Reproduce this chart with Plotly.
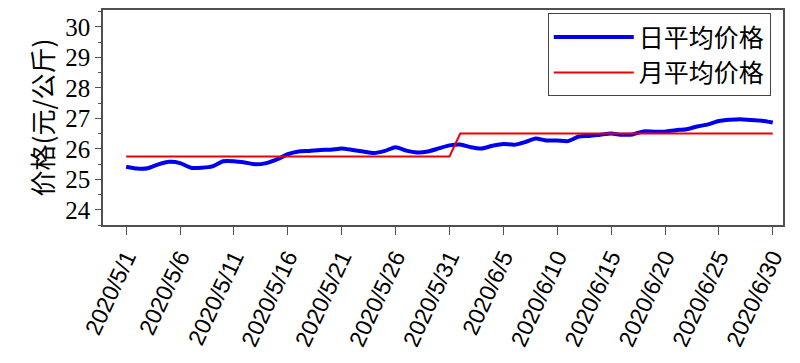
import plotly.graph_objects as go
import pandas as pd

dates = pd.date_range("2020-05-01", "2020-06-30", freq="D").strftime("%Y-%m-%d").tolist()

daily_price = [
    25.41, 25.35, 25.36, 25.49, 25.57, 25.53, 25.38, 25.38, 25.42, 25.59,
    25.59, 25.55, 25.49, 25.53, 25.65, 25.82, 25.91, 25.93, 25.96, 25.97,
    26.01, 25.96, 25.91, 25.86, 25.93, 26.05, 25.94, 25.88, 25.91, 26.01,
    26.11,
    26.14, 26.05, 26.01, 26.10, 26.16, 26.13, 26.22, 26.34, 26.27, 26.27,
    26.25, 26.40, 26.42, 26.46, 26.50, 26.46, 26.47, 26.57, 26.56, 26.56,
    26.61, 26.64, 26.73, 26.80, 26.91, 26.95, 26.97, 26.94, 26.92, 26.86,
]
may_avg = 25.75
jun_avg = 26.50
monthly_price = [may_avg if d.startswith("2020-05") else jun_avg for d in dates]

tick_dates = ["2020-05-01", "2020-05-06", "2020-05-11", "2020-05-16", "2020-05-21",
              "2020-05-26", "2020-05-31", "2020-06-05", "2020-06-10", "2020-06-15",
              "2020-06-20", "2020-06-25", "2020-06-30"]
tick_labels = ["2020/5/1", "2020/5/6", "2020/5/11", "2020/5/16", "2020/5/21",
               "2020/5/26", "2020/5/31", "2020/6/5", "2020/6/10", "2020/6/15",
               "2020/6/20", "2020/6/25", "2020/6/30"]
y_ticks = [24, 25, 26, 27, 28, 29, 30]

cjk = "Noto Sans CJK SC"

fig = go.Figure()
fig.add_trace(go.Scatter(
    x=dates, y=daily_price, mode="lines", name="日平均价格",
    line=dict(color="#0000ee", width=4, shape="spline", smoothing=0.6),
))
fig.add_trace(go.Scatter(
    x=dates, y=monthly_price, mode="lines", name="月平均价格",
    line=dict(color="#ee0000", width=2),
))

axis_line = "#505050"
fig.update_layout(
    width=800, height=363,
    margin=dict(l=103, r=17, t=8, b=138),
    paper_bgcolor="white", plot_bgcolor="white",
    showlegend=True,
    legend=dict(
        x=0.982, y=0.985, xanchor="right", yanchor="top",
        bordercolor="#444444", borderwidth=1, bgcolor="white",
        font=dict(family=cjk, size=25, color="black"),
        tracegroupgap=0, itemwidth=80,
    ),
    xaxis=dict(
        type="date",
        range=["2020-04-28 20:24", "2020-06-30 22:48"],
        tickvals=tick_dates, ticktext=tick_labels,
        tickangle=-65,
        tickfont=dict(family="Liberation Sans", size=23, color="black"),
        ticks="outside", ticklen=8, tickwidth=1.2, tickcolor=axis_line,
        showline=True, linecolor=axis_line, linewidth=1.5, mirror=True,
        showgrid=False, zeroline=False,
    ),
    yaxis=dict(
        range=[23.5, 30.55],
        tickvals=y_ticks,
        tickfont=dict(family="Liberation Serif", size=25, color="black"),
        ticks="outside", ticklen=6, tickwidth=1.2, tickcolor=axis_line,
        minor=dict(dtick=0.5, ticks="outside", ticklen=3, tickcolor=axis_line),
        showline=True, linecolor=axis_line, linewidth=1.5, mirror=True,
        showgrid=False, zeroline=False,
        title=dict(text="价格(元/公斤)", font=dict(family=cjk, size=26, color="black"),
                   standoff=4),
    ),
)

fig.write_html("out.html")
